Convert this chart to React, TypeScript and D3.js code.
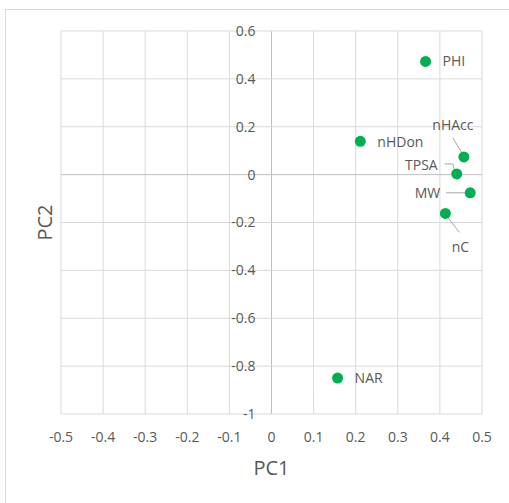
import { useEffect, useRef } from "react";
import * as d3 from "d3";

const names = ["PHI", "nHDon", "nHAcc", "TPSA", "MW", "nC", "NAR"];
const pc1 = [0.366, 0.211, 0.457, 0.44, 0.472, 0.413, 0.157];
const pc2 = [0.473, 0.139, 0.074, 0.003, -0.076, -0.162, -0.85];
const xTicks = [-0.5, -0.4, -0.3, -0.2, -0.1, 0, 0.1, 0.2, 0.3, 0.4, 0.5];
const yTicks = [0.6, 0.4, 0.2, 0, -0.2, -0.4, -0.6, -0.8, -1];

export default function App() {
  const ref = useRef<SVGSVGElement>(null);

  useEffect(() => {
    if (!ref.current) return;
    const svg = d3.select(ref.current);
    svg.selectAll("*").remove();

    const width = 509;
    const height = 503;
    const font = "'Open Sans', sans-serif";
    const textColor = "#595959";

    const x = d3.scaleLinear().domain([-0.5, 0.5]).range([61, 482]);
    const y = d3.scaleLinear().domain([-1, 0.6]).range([414, 31]);

    svg.attr("width", width).attr("height", height);

    // chart border
    svg
      .append("rect")
      .attr("x", 5.5)
      .attr("y", 9.5)
      .attr("width", 540)
      .attr("height", 540)
      .attr("fill", "#fff")
      .attr("stroke", "#d9d9d9");

    // gridlines
    svg
      .append("g")
      .selectAll("line")
      .data(xTicks)
      .join("line")
      .attr("x1", (d) => x(d))
      .attr("x2", (d) => x(d))
      .attr("y1", y(0.6))
      .attr("y2", y(-1))
      .attr("stroke", (d) => (d === 0 ? "#bfbfbf" : "#d9d9d9"))
      .attr("stroke-width", 1);

    svg
      .append("g")
      .selectAll("line")
      .data(yTicks)
      .join("line")
      .attr("x1", x(-0.5))
      .attr("x2", x(0.5))
      .attr("y1", (d) => y(d))
      .attr("y2", (d) => y(d))
      .attr("stroke", (d) => (d === 0 ? "#bfbfbf" : "#d9d9d9"))
      .attr("stroke-width", 1);

    // tick labels
    svg
      .append("g")
      .selectAll("text")
      .data(xTicks)
      .join("text")
      .attr("x", (d) => x(d))
      .attr("y", 437)
      .attr("dy", "0.35em")
      .attr("text-anchor", "middle")
      .attr("fill", textColor)
      .style("font-family", font)
      .style("font-size", "14px")
      .text((d) => String(d));

    svg
      .append("g")
      .selectAll("text")
      .data(yTicks)
      .join("text")
      .attr("x", x(0) - 16)
      .attr("y", (d) => y(d))
      .attr("dy", "0.35em")
      .attr("text-anchor", "end")
      .attr("fill", textColor)
      .style("font-family", font)
      .style("font-size", "14px")
      .text((d) => String(d));

    // axis titles
    svg
      .append("text")
      .attr("x", x(0))
      .attr("y", 468)
      .attr("dy", "0.35em")
      .attr("text-anchor", "middle")
      .attr("fill", textColor)
      .style("font-family", font)
      .style("font-size", "20px")
      .text("PC1");

    svg
      .append("text")
      .attr("transform", `translate(45,${(y(0.6) + y(-1)) / 2}) rotate(-90)`)
      .attr("dy", "0.35em")
      .attr("text-anchor", "middle")
      .attr("fill", textColor)
      .style("font-family", font)
      .style("font-size", "20px")
      .text("PC2");

    const data = names.map((n, i) => ({ name: n, px: pc1[i], py: pc2[i] }));

    // label placement (offsets from point, in px) and leader lines
    const labelPos: Record<string, { dx: number; dy: number; anchor: string; leader?: [number, number][] }> = {
      PHI: { dx: 17, dy: 0, anchor: "start" },
      nHDon: { dx: 17, dy: 1, anchor: "start" },
      NAR: { dx: 17, dy: 0, anchor: "start" },
      nHAcc: { dx: -11, dy: -32, anchor: "middle", leader: [[-11, -19], [-2, -4]] },
      TPSA: { dx: -19, dy: -9, anchor: "end", leader: [[-12, -10], [-4, -10], [-2, -3]] },
      MW: { dx: -30, dy: 0, anchor: "end", leader: [[-24, 0], [-4, 0]] },
      nC: { dx: 15, dy: 34, anchor: "middle", leader: [[1, 2], [14, 19]] },
    };

    const line = d3.line<[number, number]>();

    data.forEach((d) => {
      const cx = x(d.px);
      const cy = y(d.py);
      const lp = labelPos[d.name];
      if (lp.leader) {
        svg
          .append("path")
          .attr("d", line(lp.leader.map(([a, b]) => [cx + a, cy + b]) as [number, number][]))
          .attr("fill", "none")
          .attr("stroke", "#a6a6a6")
          .attr("stroke-width", 1);
      }
      svg
        .append("text")
        .attr("x", cx + lp.dx)
        .attr("y", cy + lp.dy)
        .attr("dy", "0.35em")
        .attr("text-anchor", lp.anchor)
        .attr("fill", textColor)
        .style("font-family", font)
        .style("font-size", "14px")
        .text(d.name);
    });

    svg
      .append("g")
      .selectAll("circle")
      .data(data)
      .join("circle")
      .attr("cx", (d) => x(d.px))
      .attr("cy", (d) => y(d.py))
      .attr("r", 5.5)
      .attr("fill", "#00b050");
  }, []);

  return <svg ref={ref} style={{ position: "absolute", left: 0, top: 0 }}></svg>;
}
